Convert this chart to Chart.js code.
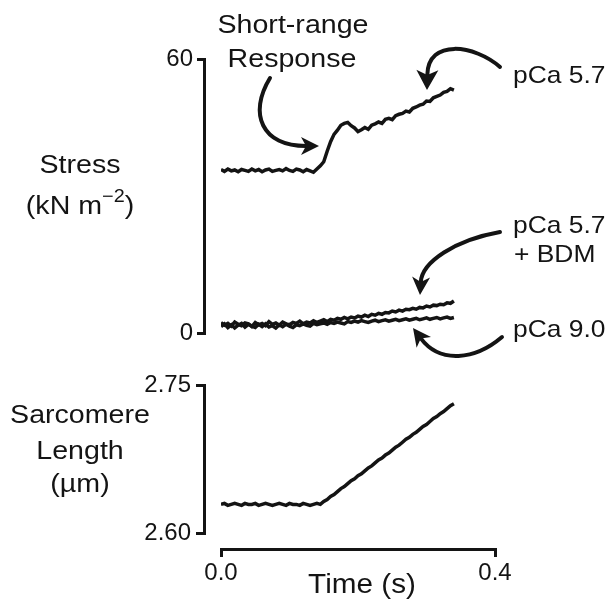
<!DOCTYPE html>
<html>
<head>
<meta charset="utf-8">
<script src="https://cdn.jsdelivr.net/npm/chart.js@4.4.1/dist/chart.umd.min.js"></script>
<style>
  html, body { margin: 0; padding: 0; background: #fff; }
</style>
</head>
<body>
<canvas id="sl-chart" width="614" height="612"></canvas>
<script>
// time base (s), shared by all traces
const timeS = [
  0.000, 0.005, 0.010, 0.015, 0.020, 0.025, 0.030, 0.035, 0.040, 0.045,
  0.050, 0.055, 0.060, 0.065, 0.070, 0.075, 0.080, 0.085, 0.090, 0.095,
  0.100, 0.105, 0.110, 0.115, 0.120, 0.125, 0.130, 0.135, 0.140, 0.145,
  0.150, 0.155, 0.160, 0.165, 0.170, 0.175, 0.180, 0.185, 0.190, 0.195,
  0.200, 0.205, 0.210, 0.215, 0.220, 0.225, 0.230, 0.235, 0.240, 0.245,
  0.250, 0.255, 0.260, 0.265, 0.270, 0.275, 0.280, 0.285, 0.290, 0.295,
  0.300, 0.305, 0.310, 0.315, 0.320, 0.325, 0.330, 0.335, 0.340
];

// stress, kN m-2
const stressPCa57 = [
  35.8, 35.4, 35.9, 35.5, 35.7, 35.3, 35.8, 35.6, 35.4, 35.9,
  35.5, 35.8, 35.3, 35.7, 35.9, 35.4, 35.6, 35.8, 35.5, 36.0,
  35.6, 35.4, 35.9, 35.7, 35.3, 35.8, 35.5, 35.2, 35.9, 36.6,
  37.5, 39.8, 41.9, 43.5, 44.4, 45.5, 45.9, 46.1, 45.4, 44.9,
  44.1, 44.5, 45.0, 44.6, 45.5, 45.8, 46.2, 45.9, 46.8, 47.0,
  46.7, 47.6, 47.9, 48.1, 48.6, 48.4, 49.2, 49.5, 49.9, 50.1,
  50.8, 50.7, 51.5, 51.8, 52.1, 52.7, 52.9, 53.5, 53.2
];
const stressBDM = [
  2.3, 1.7, 2.1, 1.5, 2.4, 1.9, 1.6, 2.2, 2.0, 1.4,
  2.3, 1.8, 2.1, 1.6, 2.5, 1.9, 2.2, 1.7, 2.4, 2.0,
  1.8, 2.3, 2.1, 2.6, 2.0, 2.4, 2.2, 2.7, 2.3, 2.6,
  2.9, 2.5, 3.0, 2.8, 3.2, 3.0, 3.4, 3.1, 3.5, 3.3,
  3.7, 3.5, 3.9, 3.6, 4.1, 3.9, 4.3, 4.1, 4.5, 4.4,
  4.8, 4.6, 5.0, 4.8, 5.2, 5.1, 5.4, 5.2, 5.6, 5.5,
  5.9, 5.7, 6.1, 6.0, 6.3, 6.2, 6.6, 6.5, 7.0
];
const stressPCa90 = [
  1.4, 2.0, 1.2, 1.8, 1.1, 1.7, 2.1, 1.3, 1.9, 1.5,
  1.2, 1.9, 1.4, 2.0, 1.3, 1.6, 1.1, 1.8, 1.4, 1.9,
  1.5, 1.2, 1.8, 1.6, 2.0, 1.7, 1.5, 2.1, 1.8, 2.0,
  2.2, 1.9, 2.3, 2.1, 2.4, 2.2, 2.0, 2.5, 2.3, 2.6,
  2.4, 2.7, 2.5, 2.3, 2.6, 2.8, 2.5, 2.7, 2.9, 2.6,
  2.8, 3.0, 2.7, 2.9, 3.1, 2.8, 3.0, 3.2, 2.9, 3.1,
  3.3, 3.0, 3.2, 3.4, 3.1, 3.3, 3.5, 3.2, 3.4
];

// sarcomere length, um
const sarcomereLength = [
  2.629, 2.630, 2.628, 2.629, 2.630, 2.629, 2.628, 2.630, 2.629, 2.629,
  2.630, 2.628, 2.629, 2.630, 2.629, 2.628, 2.629, 2.630, 2.629, 2.628,
  2.630, 2.629, 2.629, 2.628, 2.630, 2.629, 2.628, 2.629, 2.630, 2.629,
  2.632, 2.634, 2.637, 2.639, 2.642, 2.645, 2.647, 2.650, 2.653, 2.655,
  2.658, 2.660, 2.663, 2.666, 2.668, 2.671, 2.674, 2.676, 2.679, 2.681,
  2.684, 2.687, 2.689, 2.692, 2.695, 2.697, 2.700, 2.702, 2.705, 2.708,
  2.710, 2.713, 2.716, 2.718, 2.721, 2.723, 2.726, 2.729, 2.731
];

const stressTicks = [0, 60];
const lengthTicks = [2.60, 2.75];
const timeTicks = [0.0, 0.4];

const ink = '#141414';
const fontFamily = '"Liberation Sans", Arial, Helvetica, sans-serif';

function toPoints(values) {
  return timeS.map((t, i) => ({ x: t, y: values[i] }));
}

function trace(values, axis) {
  return {
    data: toPoints(values),
    xAxisID: 'x',
    yAxisID: axis,
    borderColor: ink,
    borderWidth: 3.5,
    pointRadius: 0,
    tension: 0,
    fill: false
  };
}

function fixTicks(list) {
  return (scale) => { scale.ticks = list.map(v => ({ value: v })); };
}

// invisible axes used only to leave gaps inside the stacks
function spacer(pos, stack, weight, size) {
  return {
    type: 'linear',
    position: pos,
    stack: stack,
    stackWeight: weight,
    grid: { display: false },
    border: { display: false },
    ticks: { display: false },
    afterFit: (s) => { if (pos === 'left') s.width = size; else s.height = size; }
  };
}

function label(ctx, text, x, y, size, align) {
  ctx.save();
  ctx.font = size + 'px ' + fontFamily;
  ctx.textAlign = align;
  ctx.textBaseline = 'alphabetic';
  ctx.translate(x, y);
  ctx.scale(1.1, 1);
  ctx.fillText(text, 0, 0);
  ctx.restore();
}

function curvedArrow(ctx, p0, c1, c2, tip, headLen, headHalf) {
  const dx = tip[0] - c2[0], dy = tip[1] - c2[1];
  const len = Math.hypot(dx, dy);
  const ux = dx / len, uy = dy / len;
  const bx = tip[0] - ux * headLen, by = tip[1] - uy * headLen;
  ctx.beginPath();
  ctx.moveTo(p0[0], p0[1]);
  ctx.bezierCurveTo(c1[0], c1[1], c2[0], c2[1], bx + ux * 5, by + uy * 5);
  ctx.lineWidth = 4;
  ctx.lineCap = 'round';
  ctx.stroke();
  ctx.beginPath();
  ctx.moveTo(tip[0], tip[1]);
  ctx.lineTo(bx - uy * headHalf, by + ux * headHalf);
  ctx.lineTo(bx + ux * 5, by + uy * 5);
  ctx.lineTo(bx + uy * headHalf, by - ux * headHalf);
  ctx.closePath();
  ctx.fill();
}

const annotations = {
  id: 'annotations',
  afterDraw(chart) {
    const ctx = chart.ctx;
    ctx.save();
    ctx.fillStyle = ink;
    ctx.strokeStyle = ink;

    label(ctx, 'Short-range', 293, 33, 26, 'center');
    label(ctx, 'Response', 292, 67, 26, 'center');
    label(ctx, 'Stress', 80, 173, 26, 'center');

    // (kN m^-2) with superscript
    ctx.font = '26px ' + fontFamily;
    const wA = ctx.measureText('(kN m').width * 1.1;
    const wC = ctx.measureText(')').width * 1.1;
    ctx.font = '18px ' + fontFamily;
    const wB = ctx.measureText('\u22122').width * 1.1;
    let x0 = 80 - (wA + wB + wC) / 2;
    label(ctx, '(kN m', x0, 214, 26, 'left');
    label(ctx, '\u22122', x0 + wA, 202, 18, 'left');
    label(ctx, ')', x0 + wA + wB, 214, 26, 'left');

    label(ctx, 'Sarcomere', 80, 423, 26, 'center');
    label(ctx, 'Length', 80, 459, 26, 'center');
    label(ctx, '(\u00b5m)', 80, 492, 26, 'center');

    label(ctx, 'pCa 5.7', 513, 83, 24, 'left');
    label(ctx, 'pCa 5.7', 513, 233, 24, 'left');
    label(ctx, '+ BDM', 514, 262, 24, 'left');
    label(ctx, 'pCa 9.0', 513, 337, 24, 'left');

    label(ctx, 'Time (s)', 362, 593, 27, 'center');

    curvedArrow(ctx, [270, 78], [248, 114], [262, 146], [319, 146], 18, 9);
    curvedArrow(ctx, [500, 67], [475, 45], [428, 38], [427, 90], 20, 11);
    curvedArrow(ctx, [500, 232], [455, 240], [422, 262], [420, 295], 18, 9);
    curvedArrow(ctx, [502, 337], [475, 360], [440, 364], [413, 328], 18, 9);
    ctx.restore();
  }
};

const tickFont = { family: fontFamily, size: 24 };

new Chart(document.getElementById('sl-chart'), {
  type: 'line',
  data: {
    datasets: [
      trace(stressPCa57, 'y'),
      trace(stressBDM, 'y'),
      trace(stressPCa90, 'y'),
      trace(sarcomereLength, 'y2')
    ]
  },
  options: {
    responsive: false,
    animation: false,
    layout: { padding: { top: 59, right: 119, bottom: 0, left: 0 } },
    plugins: {
      legend: { display: false },
      tooltip: { enabled: false }
    },
    scales: {
      xgap: spacer('bottom', 'xs', 17, 63),
      x: {
        type: 'linear',
        position: 'bottom',
        stack: 'xs',
        stackWeight: 274,
        min: 0,
        max: 0.4,
        afterBuildTicks: fixTicks(timeTicks),
        afterFit: (s) => { s.height = 63; },
        ticks: { color: ink, font: tickFont, padding: 2, maxRotation: 0, callback: v => v.toFixed(1) },
        grid: { drawOnChartArea: false, drawTicks: true, tickLength: 8, color: ink, lineWidth: 3 },
        border: { display: true, color: ink, width: 3 }
      },
      // left stack is laid out bottom-up, so the lowest axis comes first
      ybot: spacer('left', 'ys', 16, 204),
      y2: {
        type: 'linear',
        position: 'left',
        stack: 'ys',
        stackWeight: 148,
        min: 2.60,
        max: 2.75,
        afterBuildTicks: fixTicks(lengthTicks),
        afterFit: (s) => { s.width = 204; },
        ticks: { color: ink, font: tickFont, padding: 5, callback: v => v.toFixed(2) },
        grid: { drawOnChartArea: false, drawTicks: true, tickLength: 8, color: ink, lineWidth: 3 },
        border: { display: true, color: ink, width: 3 }
      },
      ygap: spacer('left', 'ys', 52, 204),
      y: {
        type: 'linear',
        position: 'left',
        stack: 'ys',
        stackWeight: 274,
        min: 0,
        max: 60,
        afterBuildTicks: fixTicks(stressTicks),
        afterFit: (s) => { s.width = 204; },
        ticks: { color: ink, font: tickFont, padding: 4, callback: v => String(v) },
        grid: { drawOnChartArea: false, drawTicks: true, tickLength: 7, color: ink, lineWidth: 3 },
        border: { display: true, color: ink, width: 3 }
      }
    }
  },
  plugins: [annotations]
});
</script>
</body>
</html>
